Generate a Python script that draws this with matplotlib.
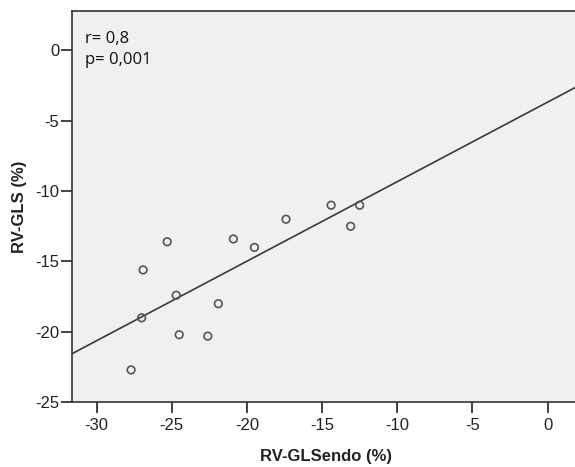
import matplotlib
matplotlib.use("Agg")
import matplotlib.pyplot as plt
import numpy as np

# Data
rv_glsendo = [-27.7, -26.9, -27.0, -25.3, -24.7, -24.5, -22.6, -21.9, -20.9, -19.5, -17.4, -14.4, -13.1, -12.5]
rv_gls = [-22.7, -15.6, -19.0, -13.6, -17.4, -20.2, -20.3, -18.0, -13.4, -14.0, -12.0, -11.0, -12.5, -11.0]
fit_slope = 0.565
fit_intercept = -3.68
x_ticks = [-30, -25, -20, -15, -10, -5, 0]
y_ticks = [0, -5, -10, -15, -20, -25]
annotation = "r= 0,8\np= 0,001"

fig = plt.figure(figsize=(5.75, 4.67), dpi=100)
ax = fig.add_axes([71.7/575, 1 - 402.3/467, (575 - 71.7)/575 + 0.01, (402.3 - 11)/467])
ax.set_facecolor("#f0f0f0")

xlim = (-31.65, 2.2)
ax.set_xlim(*xlim)
ax.set_ylim(-25, 2.79)

xs = np.array(xlim)
ax.plot(xs, fit_slope * xs + fit_intercept, color="#3a3a3a", lw=1.2, zorder=2)
ax.scatter(rv_glsendo, rv_gls, s=30, facecolors="none", edgecolors="#555555", linewidths=1.2, zorder=3)

ax.set_xticks(x_ticks)
ax.set_yticks(y_ticks)
ax.set_xticklabels([str(v) for v in x_ticks], family="Liberation Sans", fontsize=12, color="#222222")
ax.set_yticklabels([str(v) for v in y_ticks], family="Liberation Sans", fontsize=12, color="#222222")
ax.tick_params(axis="both", direction="out", length=8, width=1.3, color="#333333", pad=1)
ax.tick_params(axis="x", pad=3)

for s in ["left", "bottom", "top"]:
    ax.spines[s].set_color("#333333")
    ax.spines[s].set_linewidth(1.2)
ax.spines["right"].set_visible(False)

ax.set_xlabel("RV-GLSendo (%)", family="Liberation Sans", fontsize=12, fontweight="bold", color="#222222", labelpad=12)
ax.set_ylabel("RV-GLS (%)", family="Liberation Sans", fontsize=12, fontweight="bold", color="#222222", labelpad=6)

ax.text(85/575, 1 - 31/467, annotation, transform=fig.transFigure, family="Open Sans",
        fontsize=12, color="#111111", va="top", ha="left", linespacing=1.4)

fig.savefig("out.png", dpi=100)
